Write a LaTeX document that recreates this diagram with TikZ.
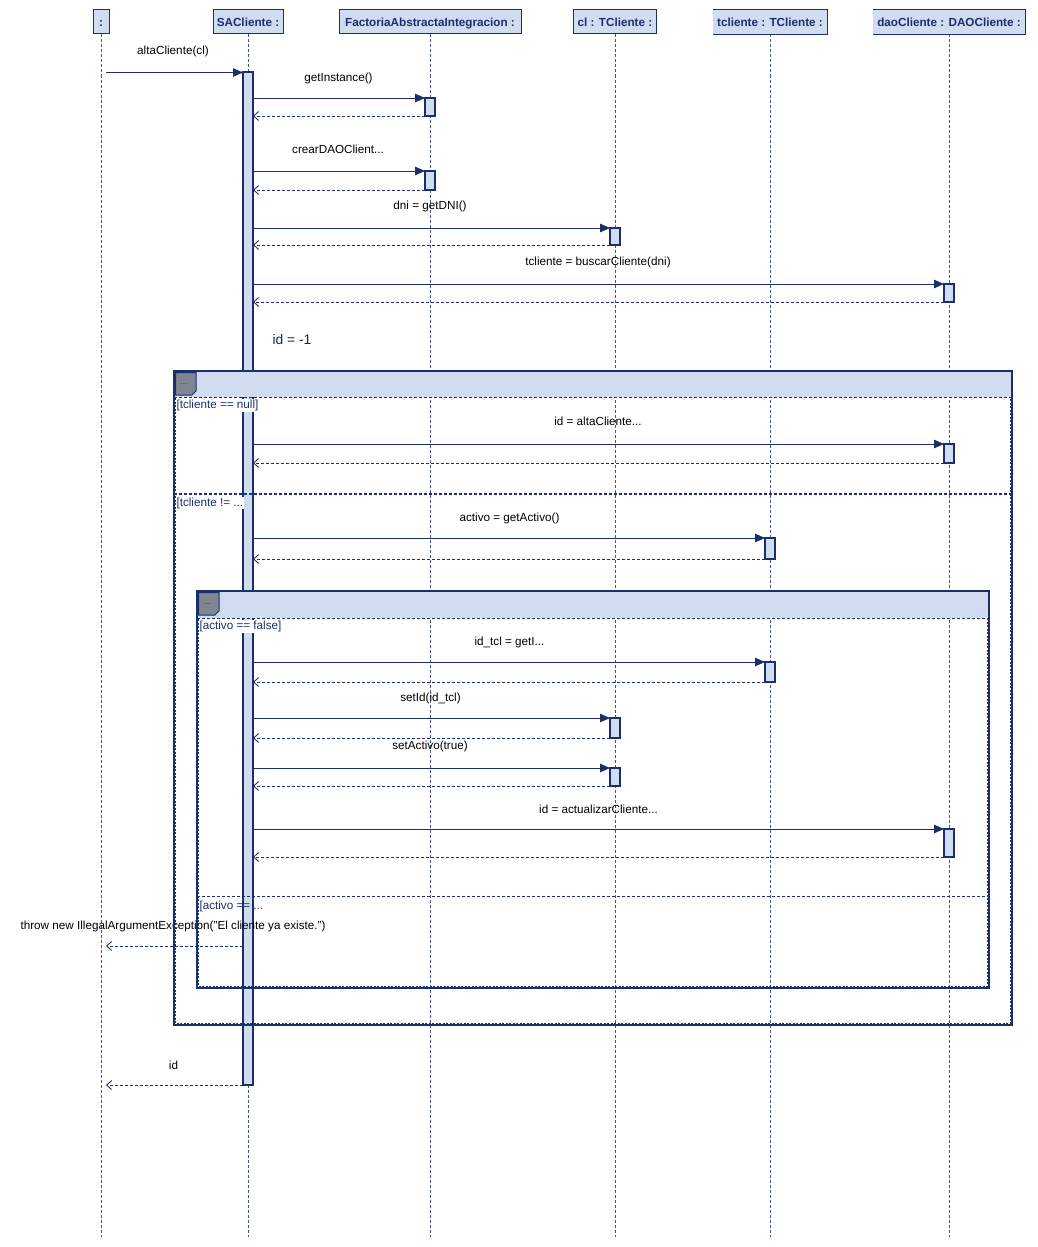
\documentclass[tikz,border=0pt]{standalone}
\usepackage{fontspec}
\setmainfont{Liberation Sans}
\usetikzlibrary{arrows.meta}

\definecolor{navy}{HTML}{1B2F6B}
\definecolor{lane}{HTML}{D0DCF0}
\definecolor{tabgray}{HTML}{7F8592}
\definecolor{lifegray}{HTML}{41558A}

\tikzset{
  txt/.style={font=\fontsize{11.7}{13}\selectfont, text height=8.6pt, text depth=2.4pt},
  head/.style={draw=navy, fill=lane, line width=1pt, minimum height=24pt,
    inner sep=0pt, font=\fontsize{11.7}{13}\selectfont\bfseries,
    text height=9.6pt, text depth=1.4pt, text=navy},
  headcut/.style={head, draw=none},
  life/.style={draw=lifegray, line width=0.9pt, dash pattern=on 3pt off 2pt},
  act/.style={draw=navy, fill=lane, line width=1.2pt, minimum width=10pt,
    inner sep=0pt, outer sep=0pt, anchor=north},
  msg/.style={draw=navy, line width=0.9pt, -{Triangle[length=10pt,width=8.5pt]}},
  ret/.style={draw=navy, line width=0.9pt, dash pattern=on 3pt off 2pt,
    -{Straight Barb[length=5pt,width=9pt]}},
  lbl/.style={txt, text=black, inner sep=0pt},
  guard/.style={txt, text=navy, fill=white, inner sep=0.8pt, anchor=north west},
  band/.style={fill=lane},
  tabbox/.style={fill=tabgray, draw=navy, line width=1pt},
  tabtxt/.style={font=\fontsize{8}{9}\selectfont, text=navy, inner sep=0pt},
  frameout/.style={draw=navy, line width=1.3pt},
  framein/.style={draw=navy, line width=1pt, dash pattern=on 2pt off 1.5pt},
  opsep/.style={draw=navy, line width=1pt, dash pattern=on 3pt off 2pt},
}

\begin{document}
\begin{tikzpicture}[x=1pt,y=-1pt]
\useasboundingbox[fill=white] (0,0) rectangle (1037,1247);

% object heads
\node[head, minimum width=16pt]  (hA)  at (101,22) {:};
\node[head, minimum width=70pt]  (hSA) at (248,22) {SACliente :};
\node[head, minimum width=182pt] (hF)  at (430,22) {FactoriaAbstractaIntegracion :};
\node[head, minimum width=83pt]  (hCl) at (615,22) {cl : TCliente :};
\node[headcut, minimum width=114pt] (hT) at (770,22) {tcliente : TCliente :};
\node[headcut, minimum width=152pt] (hD) at (949,22) {daoCliente : DAOCliente :};
\foreach \n in {hT,hD}
  \draw[navy, line width=1pt] (\n.north west) -- (\n.north east) -- (\n.south east) -- (\n.south west);

% lifelines
\coordinate (eA)  at (101,1237);
\coordinate (eSA) at (248,1237);
\coordinate (eF)  at (430,1237);
\coordinate (eCl) at (615,1237);
\coordinate (eT)  at (770,1237);
\coordinate (eD)  at (949,1237);
\draw[life] (hA.south)  -- (eA);
\draw[life] (hSA.south) -- (eSA);
\draw[life] (hF.south)  -- (eF);
\draw[life] (hCl.south) -- (eCl);
\draw[life] (hT.south)  -- (eT);
\draw[life] (hD.south)  -- (eD);

% main activation of SACliente
\node[act, minimum height=1013pt] (sa) at (248,72) {};

% header bands of the combined fragments (drawn over lifelines)
\fill[band] (174,371) rectangle (1012,397);
\fill[band] (197,591) rectangle (989,618);

% incoming call
\coordinate (c0) at (106,72.5);
\draw[msg] (c0) -- (c0 -| sa.west);
\node[lbl] (l0) at (173,51) {altaCliente(cl)};

% getInstance()
\node[act, minimum height=18pt] (a1) at (430,98) {};
\draw[msg] (a1.north west -| sa.east) -- (a1.north west);
\draw[ret] (a1.south west) -- (a1.south west -| sa.east);
\node[lbl] (l1) at (338.5,78) {getInstance()};

% crearDAOCliente
\node[act, minimum height=19pt] (a2) at (430,171) {};
\draw[msg] (a2.north west -| sa.east) -- (a2.north west);
\draw[ret] (a2.south west) -- (a2.south west -| sa.east);
\node[lbl] (l2) at (338,150) {crearDAOClient...};

% getDNI()
\node[act, minimum height=17pt] (a3) at (615,228) {};
\draw[msg] (a3.north west -| sa.east) -- (a3.north west);
\draw[ret] (a3.south west) -- (a3.south west -| sa.east);
\node[lbl] (l3) at (430,206) {dni = getDNI()};

% buscarCliente(dni)
\node[act, minimum height=18pt] (a4) at (949,284) {};
\draw[msg] (a4.north west -| sa.east) -- (a4.north west);
\draw[ret] (a4.south west) -- (a4.south west -| sa.east);
\node[lbl] (l4) at (598,262) {tcliente = buscarCliente(dni)};

\node[font=\fontsize{13.8}{15}\selectfont, text=navy!80!black, inner sep=0pt] (idinit) at (292,340) {id = -1};

% ---- outer alt fragment ----
\node[guard] (g1) at (175.5,399) {[tcliente == null]};

\node[act, minimum height=19pt] (a5) at (949,444) {};
\draw[msg] (a5.north west -| sa.east) -- (a5.north west);
\draw[ret] (a5.south west) -- (a5.south west -| sa.east);
\node[lbl] (l5) at (598,422) {id = altaCliente...};

\draw[opsep, line width=2pt] (174,494) -- (1012,494);
\node[guard] (g2) at (175.5,496.5) {[tcliente != ...};

\node[act, minimum height=21pt] (a6) at (770,538) {};
\draw[msg] (a6.north west -| sa.east) -- (a6.north west);
\draw[ret] (a6.south west) -- (a6.south west -| sa.east);
\node[lbl] (l6) at (509.5,518) {activo = getActivo()};

% ---- inner alt fragment ----
\node[guard] (g3) at (198.5,620) {[activo == false]};

\node[act, minimum height=20pt] (a7) at (770,662) {};
\draw[msg] (a7.north west -| sa.east) -- (a7.north west);
\draw[ret] (a7.south west) -- (a7.south west -| sa.east);
\node[lbl] (l7) at (509.5,642) {id\_tcl = getI...};

\node[act, minimum height=20pt] (a8) at (615,718) {};
\draw[msg] (a8.north west -| sa.east) -- (a8.north west);
\draw[ret] (a8.south west) -- (a8.south west -| sa.east);
\node[lbl] (l8) at (430.5,698) {setId(id\_tcl)};

\node[act, minimum height=18pt] (a9) at (615,768) {};
\draw[msg] (a9.north west -| sa.east) -- (a9.north west);
\draw[ret] (a9.south west) -- (a9.south west -| sa.east);
\node[lbl] (l9) at (430,746) {setActivo(true)};

\node[act, minimum height=28pt] (a10) at (949,829) {};
\draw[msg] (a10.north west -| sa.east) -- (a10.north west);
\draw[ret] (a10.south west) -- (a10.south west -| sa.east);
\node[lbl] (l10) at (598.5,810) {id = actualizarCliente...};

\draw[opsep] (197,896) -- (989,896);
\node[guard, fill=none] (g4) at (198.5,899.5) {[activo == ...};

% exception back to the caller
\coordinate (c11) at (106,946);
\draw[ret] (c11 -| sa.west) -- (c11);
\node[lbl] (l11) at (173,926) {throw new IllegalArgumentException("El cliente ya existe.")};

% final return
\coordinate (c12) at (106,1085);
\draw[ret] (c12 -| sa.west) -- (c12);
\node[lbl] (l12) at (173.5,1066) {id};

% ---- fragment frames ----
% outer
\draw[navy, line width=1pt, dash pattern=on 3pt off 2pt] (174,397) -- (1012,397);
\draw[framein] (175.6,398) -- (175.6,1023.4) -- (1010.4,1023.4) -- (1010.4,398);
\draw[frameout] (174,371) rectangle (1012,1025);
\draw[tabbox] (175.5,372.5) -- (196,372.5) -- (196,391) -- (192,395) -- (175.5,395) -- cycle;
\node[tabtxt] (t1) at (184,384) {...};
% inner
\draw[navy, line width=1pt, dash pattern=on 3pt off 2pt] (197,618) -- (989,618);
\draw[framein] (198.6,619) -- (198.6,986.4) -- (987.4,986.4) -- (987.4,619);
\draw[frameout] (197,591) rectangle (989,988);
\draw[tabbox] (198.5,592.5) -- (219,592.5) -- (219,611) -- (215,615) -- (198.5,615) -- cycle;
\node[tabtxt] (t2) at (207,604) {...};

\end{tikzpicture}
\end{document}
